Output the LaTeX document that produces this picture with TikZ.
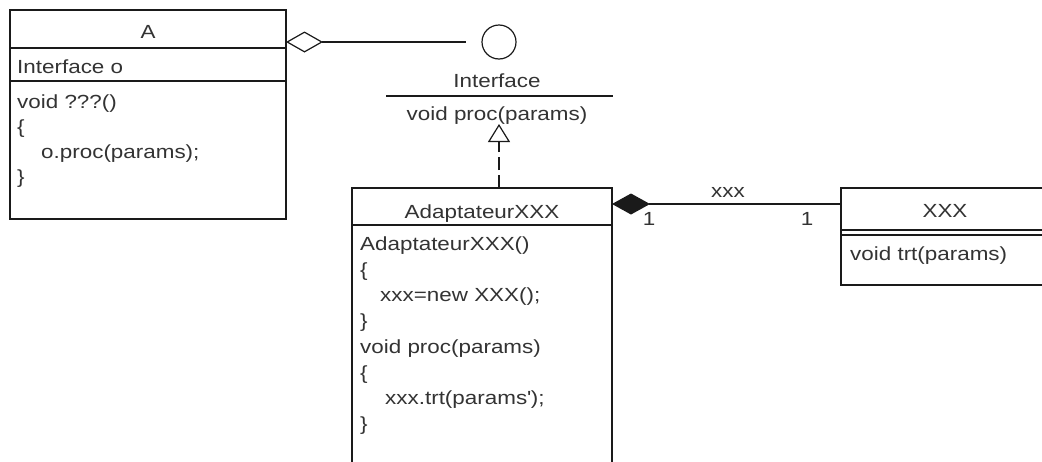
\documentclass[tikz,border=0pt]{standalone}
\usepackage{fontspec}
\setmainfont[FakeStretch=1.18]{Liberation Sans}
\usetikzlibrary{arrows.meta}
\definecolor{txt}{HTML}{333333}
\definecolor{ln}{HTML}{1A1A1A}
\tikzset{
  compart/.style={draw=ln, line width=1.2pt, inner sep=0pt, outer sep=0pt, anchor=north west},
  t/.style={text=txt, inner sep=0pt, anchor=base west, font=\fontsize{19pt}{22pt}\selectfont},
  tc/.style={t, anchor=base},
  conn/.style={draw=ln, line width=1.2pt},
}
\begin{document}
\begin{tikzpicture}[x=1pt,y=-1pt]
\useasboundingbox (0,0) rectangle (1042,461);
\clip (0,0) rectangle (1042,461);
\fill[white] (0,0) rectangle (1042,461);

% Class A
\node[compart, minimum width=276pt, minimum height=38pt] (Ahead) at (10,10) {};
\node[compart, minimum width=276pt, minimum height=33pt] (Aattr) at (10,48) {};
\node[compart, minimum width=276pt, minimum height=138pt] (Aops) at (10,81) {};
\node[tc] (Aname) at (148,38) {A};
\node[t] (Aa1) at (17,73) {Interface o};
\node[t] (Ao1) at (17,108) {void ???()};
\node[t] (Ao2) at (17,133) {\{};
\node[t] (Ao3) at (41,158) {o.proc(params);};
\node[t] (Ao4) at (17,183) {\}};

% Interface (lollipop)
\node[circle, draw=ln, line width=1.2pt, minimum size=34pt, inner sep=0pt] (iface) at (499,42) {};
\node[tc] (ifname) at (497,87) {Interface};
\coordinate (ifl) at (386,96);
\coordinate (ifr) at (613,96);
\draw[conn] (ifl) -- (ifr);
\node[tc] (ifop) at (497,120) {void proc(params)};

% Class AdaptateurXXX
\node[compart, minimum width=260pt, minimum height=37pt] (Adhead) at (352,188) {};
\node[compart, minimum width=260pt, minimum height=260pt] (Adops) at (352,225) {};
\node[tc] (Adname) at (482,218) {AdaptateurXXX};
\node[t] (Ad1) at (360,250) {AdaptateurXXX()};
\node[t] (Ad2) at (360,276) {\{};
\node[t] (Ad3) at (380,301) {xxx=new XXX();};
\node[t] (Ad4) at (360,327) {\}};
\node[t] (Ad5) at (360,353) {void proc(params)};
\node[t] (Ad6) at (360,379) {\{};
\node[t] (Ad7) at (385,404) {xxx.trt(params\textquotesingle);};
\node[t] (Ad8) at (360,430) {\}};

% Class XXX
\node[compart, minimum width=210pt, minimum height=42pt] (Xhead) at (841,188) {};
\node[compart, minimum width=210pt, minimum height=5pt] (Xattr) at (841,230) {};
\node[compart, minimum width=210pt, minimum height=50pt] (Xops) at (841,235) {};
\node[tc] (Xname) at (945,217) {XXX};
\node[t] (Xo1) at (850,260) {void trt(params)};

% Aggregation A -- Interface
\draw[conn, {Diamond[open, length=37pt, width=21pt]}-, shorten >=15pt] (Ahead.east |- iface) -- (iface.west);

% Realization AdaptateurXXX --> Interface
\coordinate (realtip) at (499,124);
\draw[conn, dash pattern=on 13pt off 5pt, -{Triangle[open, length=18pt, width=22pt]}] (Adhead.north -| realtip) -- (realtip);

% Composition AdaptateurXXX -- XXX
\coordinate (cy) at (0,204);
\draw[conn, {Diamond[length=38pt, width=21pt]}-] (Adhead.east |- cy) -- (Xhead.west |- cy);
\node[tc] (lxxx) at (728,197) {xxx};
\node[tc] (m1) at (649,225) {1};
\node[tc] (m2) at (807,225) {1};
\end{tikzpicture}
\end{document}
